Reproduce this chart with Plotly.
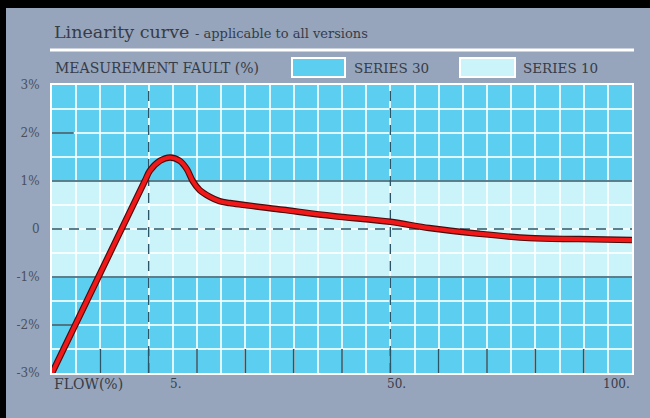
import numpy as np
import plotly.graph_objects as go

# ---- data ----
FLOW = [0, 2.4, 4.8, 5.2, 7.1, 9.0, 10.8, 12.1, 13.2, 14.5, 16.4, 18.2, 20.1,
        30.0, 39.3, 50.0, 58.0, 68.4, 78.7, 89.0, 100.0]
FAULT = [-3.0, -1.0, 1.0, 1.21, 1.42, 1.49, 1.42, 1.25, 1.0, 0.81, 0.67, 0.58, 0.54,
         0.40, 0.27, 0.15, 0.02, -0.10, -0.19, -0.21, -0.23]
FLOW_TICKS = [0, 5, 50, 100]          # flow values marked on the chart
FLOW_TICK_POS = [0, 4, 14, 24]        # grid columns where they sit
X_LABELS = ["FLOW(%)", "5.", "50.", "100."]
Y_TICKS = [-3, -2, -1, 0, 1, 2, 3]
Y_LABELS = ["-3%", "-2%", "-1%", "0", "1%", "2%", "3%"]
SERIES = ["SERIES 30", "SERIES 10"]

# ---- styles ----
BG = "#96a5bb"
CYAN = "#5ccff0"
LIGHT = "#cbf4fa"
DARK = "#2b5566"
TXT = "#363c48"
FONT = "DejaVu Serif"

W, H = 650, 418
L, R, T, B = 52, 18, 85, 45
pw, ph = W - L - R, H - T - B


def px(x):
    return (x - L) / pw


def py(y):
    return (H - B - y) / ph


def flow_to_col(f):
    return np.interp(f, FLOW_TICKS, FLOW_TICK_POS)


xc = flow_to_col(np.array(FLOW))
xmax = FLOW_TICK_POS[-1]

fig = go.Figure()

# reference lines
for yv in (1, -1):
    fig.add_trace(go.Scatter(x=[0, xmax], y=[yv, yv], mode="lines",
                             line=dict(color=DARK, width=1.6), hoverinfo="skip", showlegend=False))
fig.add_trace(go.Scatter(x=[0, xmax], y=[0, 0], mode="lines",
                         line=dict(color=DARK, width=1.4, dash="10px,7px"), hoverinfo="skip", showlegend=False))
for f in FLOW_TICKS[1:3]:
    c = flow_to_col(f)
    fig.add_trace(go.Scatter(x=[c, c], y=[-3, 3], mode="lines",
                             line=dict(color=DARK, width=1.4, dash="10px,7px"), hoverinfo="skip", showlegend=False))
# bottom short ticks
for c in range(2, xmax, 2):
    fig.add_trace(go.Scatter(x=[c, c], y=[-3, -2.5], mode="lines",
                             line=dict(color=DARK, width=1.6), hoverinfo="skip", showlegend=False))
# left short ticks
for yv in (2, -2):
    fig.add_trace(go.Scatter(x=[0, 0.9], y=[yv, yv], mode="lines",
                             line=dict(color=DARK, width=1.6), hoverinfo="skip", showlegend=False))

# curve with dark edge
fig.add_trace(go.Scatter(x=xc, y=FAULT, mode="lines",
                         line=dict(color="#4a0c0c", width=6.5, shape="spline", smoothing=0.9),
                         hoverinfo="skip", showlegend=False))
fig.add_trace(go.Scatter(x=xc, y=FAULT, mode="lines",
                         line=dict(color="#f01818", width=4.2, shape="spline", smoothing=0.9),
                         hoverinfo="skip", showlegend=False))

shapes = [
    # light band (series 10)
    dict(type="rect", xref="x", yref="y", x0=0, x1=xmax, y0=-1, y1=1,
         fillcolor=LIGHT, line=dict(width=0), layer="below"),
    # white rule under title
    dict(type="line", xref="paper", yref="paper", x0=px(50), x1=px(634), y0=py(50), y1=py(50),
         line=dict(color="white", width=3)),
    # legend boxes
    dict(type="rect", xref="paper", yref="paper", x0=px(292), x1=px(345), y0=py(77), y1=py(58),
         fillcolor=CYAN, line=dict(color="white", width=2)),
    dict(type="rect", xref="paper", yref="paper", x0=px(460), x1=px(515), y0=py(77), y1=py(58),
         fillcolor=LIGHT, line=dict(color="white", width=2)),
    # black frame (photo edge)
    dict(type="rect", xref="paper", yref="paper", x0=px(0), x1=px(W), y0=py(8), y1=py(0),
         fillcolor="black", line=dict(width=0)),
    dict(type="rect", xref="paper", yref="paper", x0=px(0), x1=px(6), y0=py(H), y1=py(0),
         fillcolor="black", line=dict(width=0)),
]

ann = [
    dict(text="Linearity curve <span style='font-size:13px'>- applicable to all versions</span>",
         xref="paper", yref="paper", x=px(52), y=py(32), xanchor="left", yanchor="middle",
         showarrow=False, font=dict(family=FONT, size=17.5, color=TXT)),
    dict(text="MEASUREMENT FAULT (%)", xref="paper", yref="paper", x=px(53), y=py(68),
         xanchor="left", yanchor="middle", showarrow=False, font=dict(family=FONT, size=14, color=TXT)),
    dict(text=SERIES[0], xref="paper", yref="paper", x=px(352), y=py(68),
         xanchor="left", yanchor="middle", showarrow=False, font=dict(family=FONT, size=13.5, color=TXT)),
    dict(text=SERIES[1], xref="paper", yref="paper", x=px(521), y=py(68),
         xanchor="left", yanchor="middle", showarrow=False, font=dict(family=FONT, size=13.5, color=TXT)),
]
# x labels
xlab_pos = [(52, "left", 14), (168, "left", 12), (385, "left", 12), (632, "right", 12)]
for (xp, anc, fs), t in zip(xlab_pos, X_LABELS):
    ann.append(dict(text=t, xref="paper", yref="paper", x=px(xp), y=py(384),
                    xanchor=anc, yanchor="middle", showarrow=False,
                    font=dict(family=FONT, size=fs, color=TXT)))

y_grid = list(np.arange(-3, 3.01, 0.5))
y_text = [Y_LABELS[Y_TICKS.index(int(v))] if float(v).is_integer() else "" for v in y_grid]

fig.update_layout(
    width=W, height=H, margin=dict(l=L, r=R, t=T, b=B),
    paper_bgcolor=BG, plot_bgcolor=CYAN,
    shapes=shapes, annotations=ann, showlegend=False,
    xaxis=dict(range=[0, xmax], tickvals=list(range(0, xmax + 1)), ticktext=[""] * (xmax + 1),
               showgrid=True, gridcolor="rgba(255,255,255,0.8)", gridwidth=1.5,
               zeroline=False, showline=True, mirror=True, linecolor="white", linewidth=2,
               ticks="", fixedrange=True),
    yaxis=dict(range=[-3, 3], tickvals=y_grid, ticktext=y_text,
               showgrid=True, gridcolor="rgba(255,255,255,0.8)", gridwidth=1.5,
               zeroline=False, showline=True, mirror=True, linecolor="white", linewidth=2,
               ticks="", ticklabelstandoff=8,
               tickfont=dict(family=FONT, size=12, color="#4a5060"), fixedrange=True),
)

fig.write_html("out.html", config={"displayModeBar": False},
               post_script="document.body.style.margin='0';document.body.style.background='%s';" % BG)
